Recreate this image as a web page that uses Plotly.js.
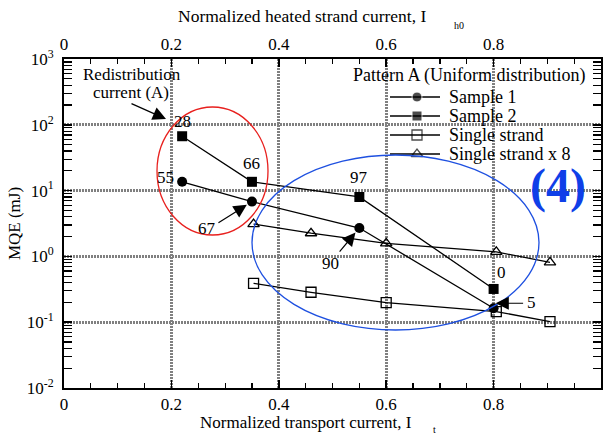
<!DOCTYPE html>
<html>
<head>
<meta charset="utf-8">
<script src="https://cdn.plot.ly/plotly-3.0.1.min.js"></script>
<style>
html,body{margin:0;padding:0;background:#fff;}
#chart{width:605px;height:436px;}
</style>
</head>
<body>
<div id="chart"></div>
<script>
// ---- data ----
var seriesNames = ['Sample 1', 'Sample 2', 'Single strand', 'Single strand x 8'];

var sample1X = [0.22, 0.35, 0.55, 0.80];
var sample1Y = [13.6, 6.8, 2.7, 0.163];
var sample1Labels = ['55', '67', '90', '5'];

var sample2X = [0.22, 0.35, 0.55, 0.80];
var sample2Y = [67, 13.6, 8.0, 0.32];
var sample2Labels = ['28', '66', '97', '0'];

var singleX = [0.353, 0.46, 0.60, 0.805, 0.905];
var singleY = [0.39, 0.285, 0.198, 0.145, 0.102];

var single8X = [0.353, 0.46, 0.60, 0.805, 0.905];
var single8Y = [3.1, 2.25, 1.58, 1.17, 0.81];

var yTickVals = [0.01, 0.1, 1, 10, 100, 1000];
var yTickText = ['10<sup>-2</sup>', '10<sup>-1</sup>', '10<sup>0</sup>', '10<sup>1</sup>', '10<sup>2</sup>', '10<sup>3</sup>'];

// ---- layout helpers (pixel -> paper) ----
var L = 64, R = 601, T = 59, B = 388;
function px(x){ return (x - L) / (R - L); }
function py(y){ return (B - y) / (B - T); }

var FONT = '"Liberation Serif", "Times New Roman", serif';
var lineStyle = {color: 'black', width: 1.3};
var markers = [
  {symbol: 'circle', size: 10, color: 'black'},
  {symbol: 'square', size: 10, color: 'black'},
  {symbol: 'square-open', size: 10, color: 'black', line: {width: 1.3, color: 'black'}},
  {symbol: 'triangle-up-open', size: 10, color: 'black', line: {width: 1.3, color: 'black'}}
];
var seriesX = [sample1X, sample2X, singleX, single8X];
var seriesY = [sample1Y, sample2Y, singleY, single8Y];

var traces = [];
seriesNames.forEach(function(n, i){
  traces.push({x: seriesX[i], y: seriesY[i], name: n, mode: 'lines+markers',
    line: lineStyle, marker: markers[i], showlegend: false});
});
traces.push({x: [0.5], y: [1e-5], xaxis: 'x2', mode: 'markers', showlegend: false, hoverinfo: 'skip',
  marker: {opacity: 0}});

var annotations = [];

// ---- manual legend (pixel-space overlay axes x3/y3) ----
var legX0 = 390, legX1 = 440, legTextX = 447, legY0 = 97, legDY = 19;
seriesNames.forEach(function(n, i){
  var yy = legY0 + i * legDY;
  var m = Object.assign({}, markers[i]);
  m.size = [0, markers[i].size, 0];
  traces.push({x: [legX0, (legX0 + legX1) / 2 + 2, legX1], y: [yy, yy, yy], xaxis: 'x3', yaxis: 'y3',
    mode: 'lines+markers', line: lineStyle, marker: m, showlegend: false, hoverinfo: 'skip'});
  annotations.push({x: legTextX, y: yy, xref: 'x3', yref: 'y3', text: n, showarrow: false,
    xanchor: 'left', yanchor: 'middle', font: {family: FONT, size: 18, color: 'black'}});
});

function lab(txt, x, y, xs, ys){
  annotations.push({x: x, y: Math.log10(y), xref: 'x', yref: 'y', text: txt, showarrow: false,
    xanchor: 'center', yanchor: 'middle',
    xshift: xs, yshift: ys, font: {family: FONT, size: 17, color: 'black'}});
}
var s2off = [[0, 15], [0, 18], [0, 19], [8, 16]];
sample2Labels.forEach(function(t, i){ lab(t, sample2X[i], sample2Y[i], s2off[i][0], s2off[i][1]); });
var s1off = [[-17, 4], [-45, -27], [-29, -35], [38, 6]];
sample1Labels.forEach(function(t, i){ lab(t, sample1X[i], sample1Y[i], s1off[i][0], s1off[i][1]); });

function arrowTo(x, y, ax, ay, xs, ys, so){
  annotations.push({x: x, y: Math.log10(y), xref: 'x', yref: 'y', text: '', showarrow: true,
    xanchor: 'center', yanchor: 'middle',
    ax: ax, ay: ay, xshift: xs, yshift: ys, standoff: so, arrowhead: 2, arrowsize: 2.2,
    arrowwidth: 1.2, arrowcolor: 'black'});
}
arrowTo(sample1X[1], sample1Y[1], -35, 22, 0, 0, 6);
arrowTo(sample1X[2], sample1Y[2], -21, 25, 0, 0, 6);
arrowTo(sample1X[3], sample1Y[3], 29, 0, 2, 5, 0);

// axis titles and free texts
function ptext(txt, x, y, size, anchor){
  annotations.push({x: px(x), y: py(y), xref: 'paper', yref: 'paper', text: txt, showarrow: false,
    xanchor: anchor || 'center', yanchor: 'middle', font: {family: FONT, size: size, color: 'black'}});
}
ptext('Redistribution', 132, 74, 17);
ptext('current (A)', 131, 93, 17);
annotations.push({x: px(166), y: py(119), xref: 'paper', yref: 'paper', text: '', showarrow: true,
  xanchor: 'center', yanchor: 'middle',
  ax: -36, ay: -16, standoff: 0, arrowhead: 2, arrowsize: 2.2, arrowwidth: 1.2, arrowcolor: 'black'});

ptext('Pattern A (Uniform distribution)', 587, 75, 18, 'right');
annotations.push({x: px(558), y: py(186), xref: 'paper', yref: 'paper', text: '<b>(4)</b>',
  xanchor: 'center', yanchor: 'middle',
  showarrow: false, font: {family: FONT, size: 48, color: '#0f3fe8'}});

ptext('Normalized heated strand current, I', 302, 16, 17.5);
ptext('h0', 459, 26, 10);
ptext('Normalized transport current, I', 306, 422, 17);
ptext('t', 434, 429, 10);

var shapes = [
  {type: 'circle', xref: 'paper', yref: 'paper', x0: px(157), x1: px(268), y0: py(235), y1: py(107),
   line: {color: '#e8201e', width: 1.3}},
  {type: 'circle', xref: 'paper', yref: 'paper', x0: px(252), x1: px(539), y0: py(330), y1: py(155),
   line: {color: '#1e50e0', width: 1.3}}
];

var gridStyle = {gridcolor: '#808080', gridwidth: 3, griddash: '2px,1px'};

var layout = {
  width: 605, height: 436,
  margin: {l: L, r: 605 - R, t: T, b: 436 - B, pad: 0},
  paper_bgcolor: 'white', plot_bgcolor: 'white',
  font: {family: FONT, size: 17, color: 'black'},
  showlegend: false,
  xaxis: Object.assign({range: [0, 1], dtick: 0.2, tick0: 0, ticks: 'inside', ticklen: 8, tickwidth: 1.5,
    tickcolor: 'black', showline: true, linecolor: 'black', linewidth: 2, mirror: false,
    showgrid: true, zeroline: false, tickfont: {family: FONT, size: 17},
    minor: {dtick: 0.05, ticks: 'inside', ticklen: 5, tickwidth: 1.2, tickcolor: 'black', showgrid: false}}, gridStyle),
  xaxis2: {overlaying: 'x', side: 'top', range: [0, 1], dtick: 0.2, tick0: 0, ticks: 'inside', ticklen: 8,
    tickwidth: 1.5, tickcolor: 'black', showline: true, linecolor: 'black', linewidth: 2, showgrid: false,
    zeroline: false, tickfont: {family: FONT, size: 17},
    minor: {dtick: 0.05, ticks: 'inside', ticklen: 5, tickwidth: 1.2, tickcolor: 'black', showgrid: false}},
  xaxis3: {overlaying: 'x', range: [L, R], visible: false, fixedrange: true},
  yaxis3: {overlaying: 'y', anchor: 'x3', range: [B, T], visible: false, fixedrange: true},
  yaxis: Object.assign({type: 'log', range: [-2, 3], tickvals: yTickVals, ticktext: yTickText,
    ticks: 'inside', ticklen: 8, tickwidth: 1.5, tickcolor: 'black', showline: true, linecolor: 'black',
    linewidth: 2, mirror: 'allticks', showgrid: true, zeroline: false, tickfont: {family: FONT, size: 17},
    ticklabelstandoff: 5,
    title: {text: 'MQE (mJ)', font: {family: FONT, size: 17}, standoff: 2},
    minor: {ticks: 'inside', ticklen: 5, tickwidth: 1.2, tickcolor: 'black', showgrid: false, dtick: 'D1'}}, gridStyle),
  annotations: annotations,
  shapes: shapes
};

Plotly.newPlot('chart', traces, layout, {displayModeBar: false, staticPlot: true});
</script>
</body>
</html>
